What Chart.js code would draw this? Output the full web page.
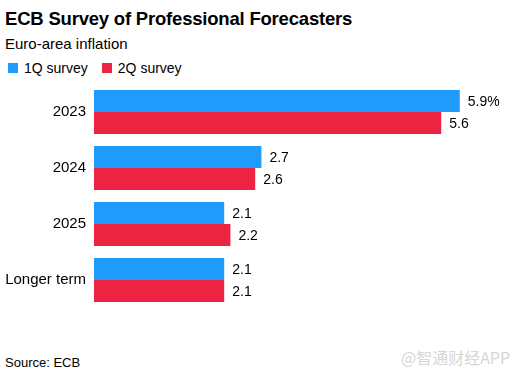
<!DOCTYPE html>
<html><head><meta charset="utf-8">
<script src="https://cdn.jsdelivr.net/npm/chart.js@4"></script>
<style>
html,body{margin:0;padding:0;background:#fff;}
body{width:520px;height:375px;position:relative;overflow:hidden;font-family:"Liberation Sans",Arial,sans-serif;color:#000;}
#title{position:absolute;left:5px;top:8px;font-size:18.5px;font-weight:bold;letter-spacing:-0.2px;}
#sub{position:absolute;left:5px;top:35px;font-size:15px;}
#legend{position:absolute;left:8px;top:60px;font-size:14px;display:flex;align-items:center;}
.sw{display:inline-block;width:10px;height:10px;margin-right:6px;}
.li{display:flex;align-items:center;margin-right:14px;}
#src{position:absolute;left:5px;top:355px;font-size:13px;}
#wm{position:absolute;left:401px;top:345px;font-size:16px;color:#d6d6d6;font-family:"Noto Sans CJK SC",sans-serif;}
#wrap{position:absolute;left:0;top:67px;width:520px;height:258px;}
</style></head>
<body>
<div id="title">ECB Survey of Professional Forecasters</div>
<div id="sub">Euro-area inflation</div>
<div id="legend"></div>
<div id="wrap"><canvas id="c"></canvas></div>
<div id="src">Source: ECB</div>
<div id="wm">@智通财经APP</div>
<script>
const categories = ["2023", "2024", "2025", "Longer term"];
const seriesNames = ["1Q survey", "2Q survey"];
const q1Values = [5.9, 2.7, 2.1, 2.1];
const q2Values = [5.6, 2.6, 2.2, 2.1];
const colors = ["#1f9cfb", "#ec2341"];

const leg = document.getElementById('legend');
seriesNames.forEach((n,i)=>{
  const d=document.createElement('span');d.className='li';
  d.innerHTML='<span class="sw" style="background:'+colors[i]+'"></span>'+n;
  leg.appendChild(d);
});

const labelPlugin = {
  id:'vals',
  afterDatasetsDraw(chart){
    const ctx=chart.ctx;
    ctx.save();
    ctx.font='14px "Liberation Sans", Arial, sans-serif';
    ctx.fillStyle='#000';
    ctx.textBaseline='middle';
    ctx.textAlign='left';
    chart.data.datasets.forEach((ds,di)=>{
      chart.getDatasetMeta(di).data.forEach((bar,i)=>{
        let t=ds.data[i].toFixed(1);
        if(di===0&&i===0) t+='%';
        ctx.fillText(t, bar.x+8, bar.y+1);
      });
    });
    ctx.restore();
  }
};

new Chart(document.getElementById('c'),{
  type:'bar',
  data:{labels:categories,datasets:[
    {label:seriesNames[0],data:q1Values,backgroundColor:colors[0]},
    {label:seriesNames[1],data:q2Values,backgroundColor:colors[1]}
  ]},
  options:{
    indexAxis:'y',responsive:true,maintainAspectRatio:false,animation:false,
    layout:{padding:{left:0,right:23,top:0,bottom:0}},
    datasets:{bar:{categoryPercentage:0.786,barPercentage:1,borderWidth:0}},
    plugins:{legend:{display:false},tooltip:{enabled:false}},
    scales:{
      x:{display:false,min:0,max:6.5},
      y:{
        afterFit(s){s.width=94;},
        grid:{display:false,drawTicks:false},border:{display:false},
        ticks:{color:'#000',padding:8,font:{size:15,family:'"Liberation Sans", Arial, sans-serif'}}
      }
    }
  },
  plugins:[labelPlugin]
});
</script>
</body></html>
